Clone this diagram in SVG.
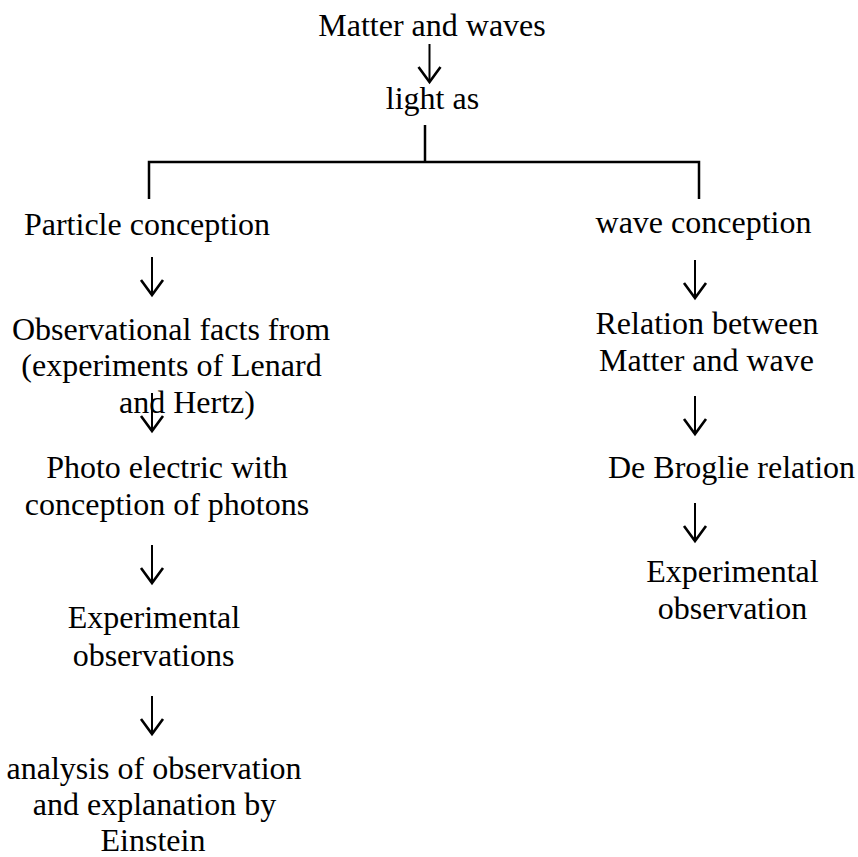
<svg xmlns="http://www.w3.org/2000/svg" width="858" height="857" viewBox="0 0 858 857">
  <style>
    .lbl { font-family: "Liberation Serif", "Times New Roman", serif; font-size: 32px; fill: #000; text-anchor: middle; }
    .line { stroke: #000; stroke-width: 2.5; fill: none; }
    .shaft { stroke: #000; stroke-width: 2; fill: none; }
    .head { stroke: #000; stroke-width: 2.6; fill: none; stroke-linejoin: miter; }
  </style>
  <defs>
    <!-- down arrow, tip at origin -->
    <g id="down">
      <line class="shaft" x1="0" y1="-39" x2="0" y2="-1"/>
      <polyline class="head" points="-11,-16 0,-1 11,-16"/>
    </g>
  </defs>
  <rect width="858" height="857" fill="#fff"/>

  <g id="connectors">
    <!-- branch bracket below "light as" -->
    <line class="line" x1="425" y1="125" x2="425" y2="162"/>
    <polyline class="line" points="149,199 149,162 699,162 699,199"/>
    <!-- arrows -->
    <use href="#down" x="429.5" y="83"/>
    <use href="#down" x="152" y="296"/>
    <use href="#down" x="152" y="432"/>
    <use href="#down" x="152" y="584"/>
    <use href="#down" x="152" y="735"/>
    <use href="#down" x="695" y="299"/>
    <use href="#down" x="695" y="435"/>
    <use href="#down" x="695" y="542"/>
  </g>

  <g id="matter-and-waves"><text class="lbl" x="432" y="36">Matter and waves</text></g>
  <g id="light-as"><text class="lbl" x="432.5" y="109">light as</text></g>
  <g id="particle-conception"><text class="lbl" x="147" y="235">Particle conception</text></g>
  <g id="wave-conception"><text class="lbl" x="703.5" y="233">wave conception</text></g>
  <g id="observational-facts">
    <text class="lbl" x="171" y="340">Observational facts from</text>
    <text class="lbl" x="171.5" y="376">(experiments of Lenard</text>
    <text class="lbl" x="187" y="413">and Hertz)</text>
  </g>
  <g id="photo-electric">
    <text class="lbl" x="167" y="478">Photo electric with</text>
    <text class="lbl" x="167" y="515">conception of photons</text>
  </g>
  <g id="experimental-observations">
    <text class="lbl" x="154" y="628">Experimental</text>
    <text class="lbl" x="153.5" y="666">observations</text>
  </g>
  <g id="einstein-analysis">
    <text class="lbl" x="154" y="779">analysis of observation</text>
    <text class="lbl" x="154.5" y="815">and explanation by</text>
    <text class="lbl" x="153" y="851">Einstein</text>
  </g>
  <g id="relation-matter-wave">
    <text class="lbl" x="707" y="334">Relation between</text>
    <text class="lbl" x="706.5" y="371">Matter and wave</text>
  </g>
  <g id="de-broglie"><text class="lbl" x="731.5" y="478">De Broglie relation</text></g>
  <g id="experimental-observation">
    <text class="lbl" x="732.5" y="582">Experimental</text>
    <text class="lbl" x="732.5" y="619">observation</text>
  </g>
</svg>
